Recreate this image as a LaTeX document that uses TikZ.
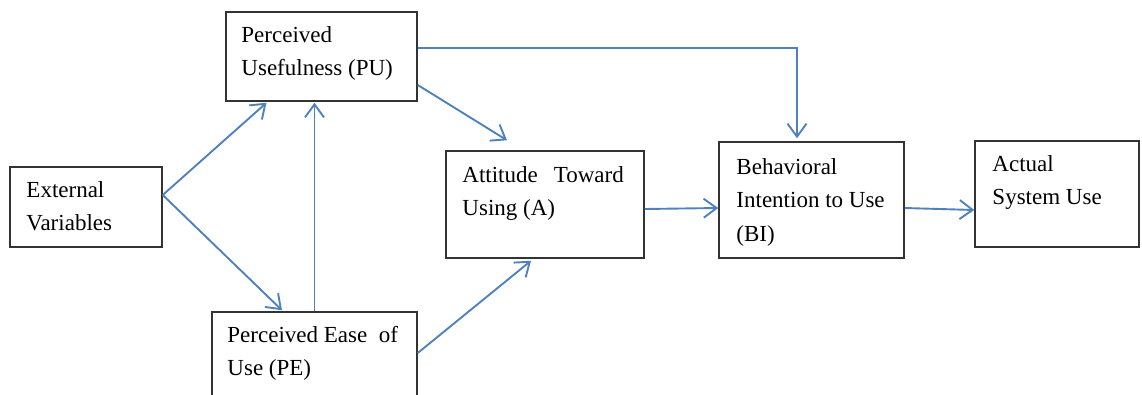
\documentclass[tikz,border=0pt]{standalone}
\usepackage{fontspec}
\setmainfont{Liberation Serif}
\usetikzlibrary{arrows.meta}
\definecolor{arrowblue}{RGB}{79,129,189}
\tikzset{
  box/.style={draw=black!80, line width=1.5pt, rectangle, inner sep=0pt, fill=white},
  lbl/.style={anchor=base west, align=left, inner sep=0pt, font=\fontsize{23}{33.5}\selectfont},
  conn/.style={draw=arrowblue, line width=1.9pt, -{Straight Barb[length=13pt,width=19pt,line width=1.9pt]}},
}
\begin{document}
\begin{tikzpicture}[x=1pt,y=-1pt]
\useasboundingbox (0,0) rectangle (1142,394);
\node[box, minimum width=152pt, minimum height=80pt] (ev) at (86,207) {};
\node[box, minimum width=191pt, minimum height=89pt] (pu) at (321.5,56.5) {};
\node[box, minimum width=205pt, minimum height=88pt] (pe) at (314.5,356) {};
\node[box, minimum width=198pt, minimum height=107pt] (att) at (545,204.5) {};
\node[box, minimum width=185pt, minimum height=116pt] (bi) at (811.5,200) {};
\node[box, minimum width=164pt, minimum height=106pt] (asu) at (1057,194) {};

% base anchor of a multi-line label lies on its last line
\node[lbl] (evt) at ([xshift=17pt,yshift=-64.5pt]ev.north west) {External\\Variables};
\node[lbl] (put) at ([xshift=16pt,yshift=-64.5pt]pu.north west) {Perceived\\Usefulness (PU)};
\node[lbl] (pet) at ([xshift=16pt,yshift=-64.5pt]pe.north west) {Perceived Ease\enspace of\\Use (PE)};
\node[lbl] (attt) at ([xshift=17pt,yshift=-65.5pt]att.north west) {Attitude\hspace{16pt}Toward\\Using (A)};
\node[lbl] (bit) at ([xshift=18pt,yshift=-100pt]bi.north west) {Behavioral\\Intention to Use\\(BI)};
\node[lbl] (asut) at ([xshift=18pt,yshift=-64.5pt]asu.north west) {Actual\\System Use};

\draw[conn] ([yshift=12pt]ev.east) -- ([xshift=-55pt,yshift=-1pt]pu.south);
\draw[conn] ([yshift=12pt]ev.east) -- ([xshift=-32.5pt,yshift=1pt]pe.north);
\draw[conn] (pe.north) -- ([yshift=-1pt]pe.north |- pu.south);
\draw[conn] ([yshift=8.5pt]pu.east) -| ([xshift=-14.5pt,yshift=3pt]bi.north);
\draw[conn] ([yshift=-28.5pt]pu.east) -- ([xshift=-38pt,yshift=10pt]att.north);
\draw[conn] ([yshift=3pt]pe.east) -- ([xshift=-14pt,yshift=-2pt]att.south);
\draw[conn] ([yshift=-4.5pt]att.east) -- ([yshift=-8pt]bi.west);
\draw[conn] ([yshift=-8pt]bi.east) -- ([yshift=-16pt]asu.west);
\end{tikzpicture}
\end{document}
